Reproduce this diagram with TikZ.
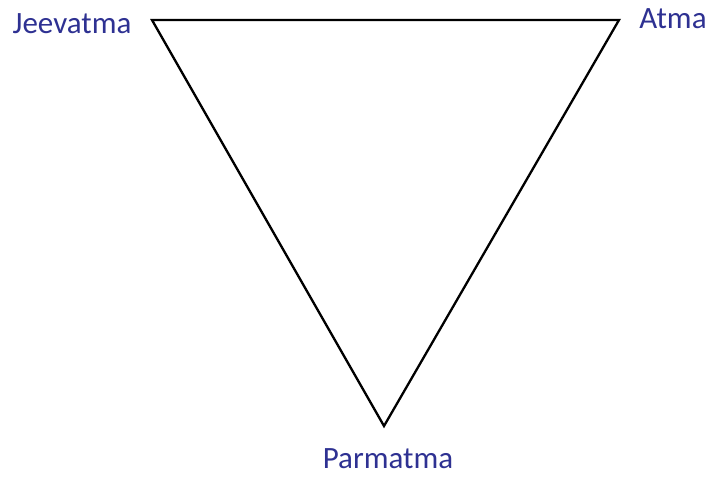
\documentclass[tikz,border=0pt]{standalone}
\usepackage{fontspec}
\setmainfont{Carlito}
\definecolor{lblue}{HTML}{2E3192}
\tikzset{
  lbl/.style={text=lblue, font=\fontsize{31}{36}\selectfont, anchor=base, inner sep=0pt, text depth=0pt},
  edge/.style={draw=black, line width=2.3pt}
}
\begin{document}
\begin{tikzpicture}[x=1pt,y=-1pt]
\useasboundingbox (0,0) rectangle (706,477);
\coordinate (J) at (152,20);
\coordinate (A) at (619,20);
\coordinate (P) at (384,426);
\draw[edge] (J) -- (A) -- (P) -- cycle;
\node[lbl] (jl) at (72,33) {Jeevatma};
\node[lbl] (al) at (673,28) {Atma};
\node[lbl] (pl) at (388,468) {Parmatma};
\end{tikzpicture}
\end{document}
